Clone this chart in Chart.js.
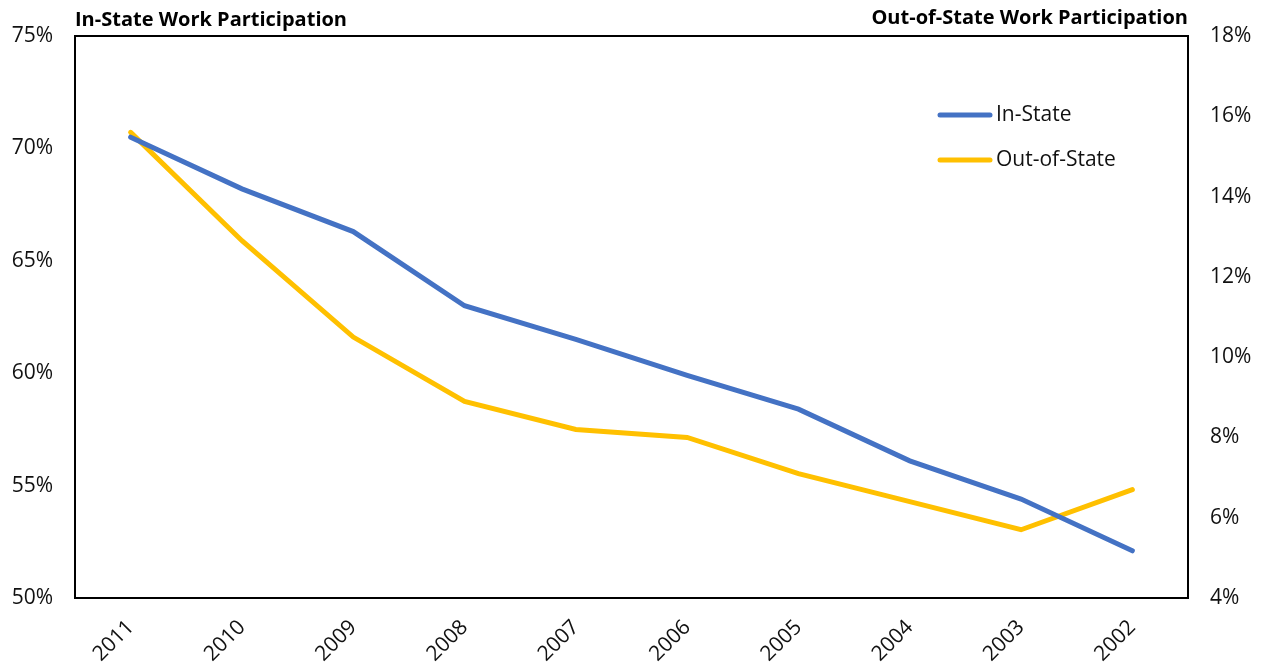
<!DOCTYPE html>
<html>
<head>
<meta charset="utf-8">
<script src="https://cdn.jsdelivr.net/npm/chart.js@4/dist/chart.umd.min.js"></script>
<style>
  html, body { margin: 0; padding: 0; background: #fff; }
  #wrap { width: 1263px; height: 669px; }
</style>
</head>
<body>
<div id="wrap"><canvas id="chart" width="1263" height="669"></canvas></div>
<script>
// years run newest -> oldest, as in the original
const years = ["2011", "2010", "2009", "2008", "2007", "2006", "2005", "2004", "2003", "2002"];
const inState = [70.5, 68.2, 66.3, 63.0, 61.5, 59.9, 58.4, 56.1, 54.4, 52.1];
const outOfState = [15.6, 12.9, 10.5, 8.9, 8.2, 8.0, 7.1, 6.4, 5.7, 6.7];
const leftTicks = [50, 55, 60, 65, 70, 75];
const rightTicks = [4, 6, 8, 10, 12, 14, 16, 18];

const FONT = "'Open Sans', Lato, sans-serif";
const BLUE = "#4472c4";
const GOLD = "#ffc000";

// axis titles above the plot + in-plot legend
const decorations = {
  id: "decorations",
  afterDraw(chart) {
    const { ctx, chartArea } = chart;
    ctx.save();
    ctx.fillStyle = "#000";
    ctx.font = "bold 20px " + FONT;
    ctx.textBaseline = "alphabetic";
    ctx.textAlign = "left";
    ctx.fillText("In-State Work Participation", 75, 26);
    ctx.textAlign = "right";
    ctx.fillText("Out-of-State Work Participation", 1188, 24);

    // box around the plot
    ctx.strokeStyle = "#000";
    ctx.lineWidth = 2;
    ctx.strokeRect(chartArea.left, chartArea.top,
      chartArea.right - chartArea.left, chartArea.bottom - chartArea.top);

    // legend
    const items = [["In-State", BLUE, 115], ["Out-of-State", GOLD, 160]];
    ctx.lineCap = "round";
    ctx.lineWidth = 5;
    ctx.font = "21px " + FONT;
    ctx.textAlign = "left";
    ctx.textBaseline = "middle";
    items.forEach(([label, color, y]) => {
      ctx.strokeStyle = color;
      ctx.beginPath();
      ctx.moveTo(940, y);
      ctx.lineTo(990, y);
      ctx.stroke();
      ctx.fillStyle = "#111";
      ctx.fillText(label, 996, y);
    });
    ctx.restore();
  }
};

new Chart(document.getElementById("chart"), {
  type: "line",
  data: {
    labels: years,
    datasets: [
      {
        label: "In-State",
        data: inState,
        yAxisID: "y",
        borderColor: BLUE,
        borderWidth: 5,
        pointRadius: 0,
        borderCapStyle: "round",
        tension: 0
      },
      {
        label: "Out-of-State",
        data: outOfState,
        yAxisID: "y2",
        borderColor: GOLD,
        borderWidth: 5,
        pointRadius: 0,
        borderCapStyle: "round",
        tension: 0
      }
    ]
  },
  options: {
    responsive: false,
    animation: false,
    layout: { padding: { top: 36, left: 0, right: 0, bottom: 0 } },
    plugins: {
      legend: { display: false },
      tooltip: { enabled: false }
    },
    scales: {
      x: {
        offset: true,
        grid: { display: false, drawTicks: false },
        border: { display: false },
        ticks: {
          color: "#111",
          font: { family: FONT, size: 21 },
          maxRotation: 45,
          minRotation: 45,
          padding: 17
        },
        afterFit(scale) { scale.height = 71; }
      },
      y: {
        position: "left",
        min: 50,
        max: 75,
        afterBuildTicks(scale) { scale.ticks = leftTicks.map(v => ({ value: v })); },
        grid: { display: false, drawTicks: false },
        border: { display: false },
        ticks: {
          color: "#111",
          font: { family: FONT, size: 21 },
          padding: 22,
          callback: v => v + "%"
        },
        afterFit(scale) { scale.width = 75; }
      },
      y2: {
        position: "right",
        min: 4,
        max: 18,
        afterBuildTicks(scale) { scale.ticks = rightTicks.map(v => ({ value: v })); },
        grid: { display: false, drawTicks: false },
        border: { display: false },
        ticks: {
          color: "#111",
          font: { family: FONT, size: 21 },
          padding: 22,
          callback: v => v + "%"
        },
        afterFit(scale) { scale.width = 75; }
      }
    }
  },
  plugins: [decorations]
});
</script>
</body>
</html>
